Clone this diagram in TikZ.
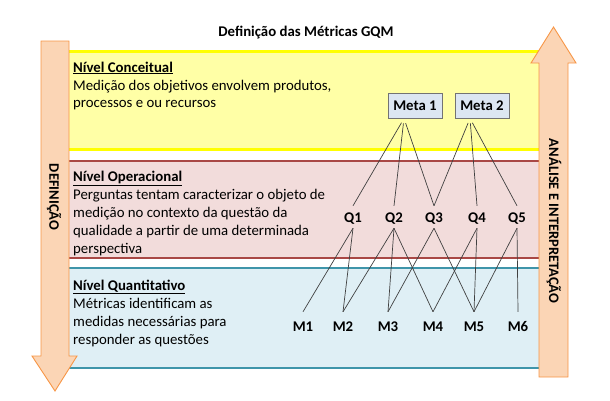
\documentclass[tikz,border=0pt]{standalone}
\usepackage{fontspec}
\setmainfont{Carlito}
\definecolor{arrowfill}{HTML}{FBD5B5}
\definecolor{arrowline}{HTML}{F79646}
\definecolor{yfill}{HTML}{FFFFA6}
\definecolor{yline}{HTML}{FFFF00}
\definecolor{rfill}{HTML}{F2DCDB}
\definecolor{rline}{HTML}{A94845}
\definecolor{tfill}{HTML}{DFEFF5}
\definecolor{tline}{HTML}{3F95AA}
\definecolor{metafill}{HTML}{DCE6F2}
\definecolor{linkcol}{HTML}{404040}
\begin{document}
\begin{tikzpicture}[x=1pt,y=-1pt,
  txt/.style={anchor=base west,inner sep=0pt,font=\fontsize{14.8}{18}\selectfont},
  lbl/.style={inner xsep=2pt,inner ysep=6pt,text height=10pt,text depth=0pt,
    font=\fontsize{14.8}{18}\selectfont\bfseries},
  mlbl/.style={lbl,inner ysep=9pt},
  metabox/.style={draw=gray!90!black,fill=metafill,line width=0.8pt,
    minimum width=54pt,minimum height=25pt,inner sep=0pt,
    font=\fontsize{14.8}{18}\selectfont\bfseries},
  sidetext/.style={rotate=-90,font=\fontsize{14.5}{18}\selectfont\bfseries},
  link/.style={draw=linkcol,line width=0.7pt},
  bigarrow/.style={draw=arrowline,fill=arrowfill,line width=0.9pt,line join=miter}]
\useasboundingbox (0,0) rectangle (610,400);

% level bands
\fill[yfill] (60,51) rectangle (548,149);
\draw[yline,line width=3pt] (60,51) -- (548,51) (60,149) -- (548,149);
\fill[rfill] (60,161) rectangle (548,258);
\draw[rline,line width=2.5pt] (60,161) -- (548,161) (60,258) -- (548,258);
\fill[tfill] (60,268) rectangle (548,368);
\draw[tline,line width=2.5pt] (60,268) -- (548,268) (60,368) -- (548,368);

% side arrows
\draw[bigarrow] (41,41) -- (69,41) -- (69,356) -- (77,356) -- (55,391)
  -- (32,356) -- (41,356) -- cycle;
\draw[bigarrow] (539,377) -- (568,377) -- (568,63) -- (576,63) -- (553.5,27)
  -- (531,63) -- (539,63) -- cycle;
\node[sidetext] (def) at (54,197) {DEFINIÇÃO};
\node[sidetext] (ai) at (554,221) {ANÁLISE E INTERPRETAÇÃO};

% title
\node[font=\fontsize{14.8}{18}\selectfont\bfseries] (title) at (306,33) {Definição das Métricas GQM};

% conceptual level text
\node[txt] (c0) at (73,72) {\underline{\textbf{Nível Conceitual}}};
\node[txt] (c1) at (73,90) {Medição dos objetivos envolvem produtos,};
\node[txt] (c2) at (73,107) {processos e ou recursos};

% operational level text
\node[txt] (o0) at (73,181) {\underline{\textbf{Nível Operacional}}};
\node[txt] (o1) at (73,199) {Perguntas tentam caracterizar o objeto de};
\node[txt] (o2) at (73,217) {medição no contexto da questão da};
\node[txt] (o3) at (73,235) {qualidade a partir de uma determinada};
\node[txt] (o4) at (73,253) {perspectiva};

% quantitative level text
\node[txt] (q0) at (73,290) {\underline{\textbf{Nível Quantitativo}}};
\node[txt] (q1) at (73,308) {Métricas identificam as};
\node[txt] (q2) at (73,326) {medidas necessárias para};
\node[txt] (q3) at (73,344) {responder as questões};

% goals
\node[metabox] (G1) at (415,105.5) {Meta 1};
\node[metabox] (G2) at (482,105.5) {Meta 2};

% questions
\node[lbl] (Q1) at (353,217) {Q1};
\node[lbl] (Q2) at (394,217) {Q2};
\node[lbl] (Q3) at (434,217) {Q3};
\node[lbl] (Q4) at (477,217) {Q4};
\node[lbl] (Q5) at (517,217) {Q5};

% metrics
\node[mlbl] (M1) at (303,326) {M1};
\node[mlbl] (M2) at (343,326) {M2};
\node[mlbl] (M3) at (388,326) {M3};
\node[mlbl] (M4) at (433,326) {M4};
\node[mlbl] (M5) at (474,326) {M5};
\node[mlbl] (M6) at (518,326) {M6};

% goal -> question links
\foreach \q in {Q1,Q2,Q3}
  \draw[link,shorten <=5pt] ([xshift=-11pt]G1.south) -- (\q.north);
\foreach \q in {Q3,Q4,Q5}
  \draw[link,shorten <=5pt] ([xshift=-12pt]G2.south) -- (\q.north);

% question -> metric links
\foreach \q/\m in {Q1/M1,Q1/M2,Q2/M2,Q2/M3,Q2/M4,Q3/M3,Q3/M5,Q4/M4,Q4/M5,Q5/M5,Q5/M6}
  \draw[link] (\q.south) -- (\m.north);
\end{tikzpicture}
\end{document}
